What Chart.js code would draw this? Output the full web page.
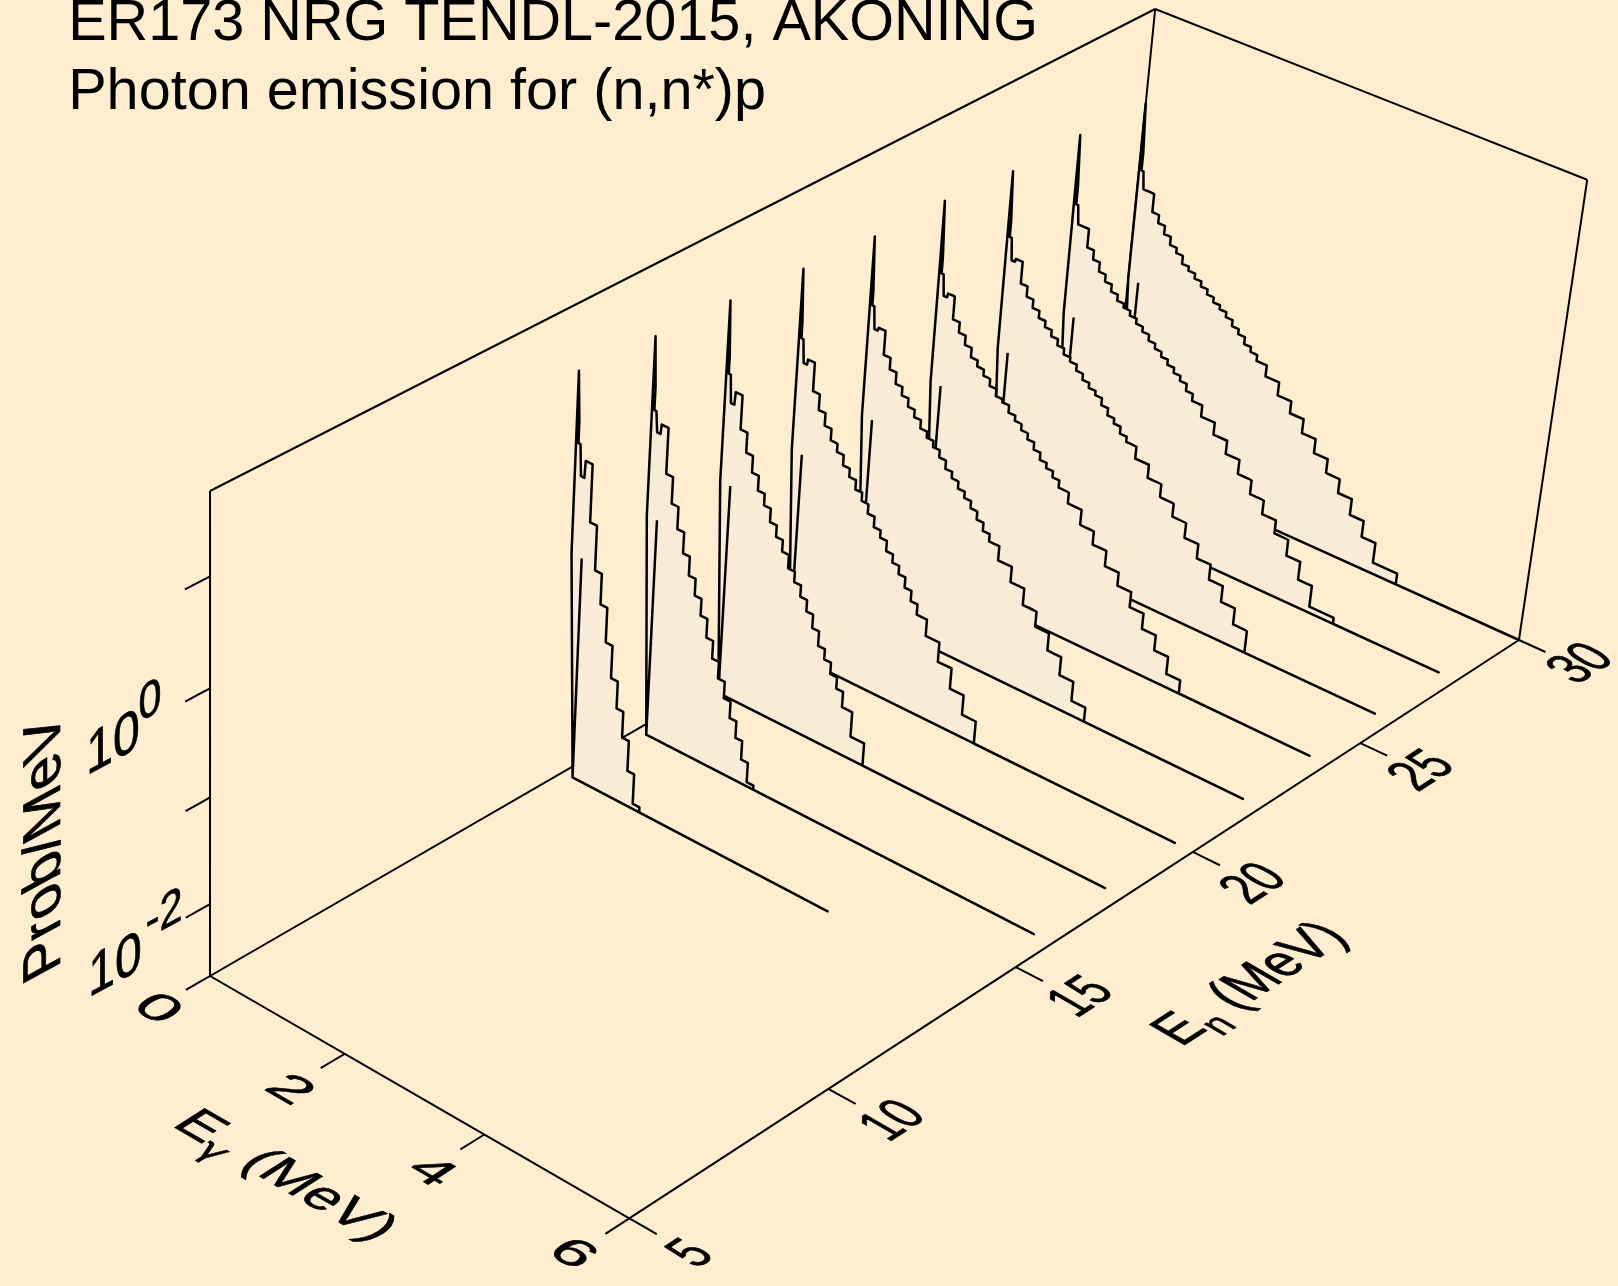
<!DOCTYPE html>
<html><head><meta charset="utf-8"><title>ER173 photon emission</title>
<style>html,body{margin:0;padding:0;background:#ffedd0}#w{position:absolute;left:0;top:0;width:1618px;height:1286px}</style>
</head><body><div id="w"><canvas id="c" width="1618" height="1286"></canvas></div>
<script src="https://cdn.jsdelivr.net/npm/chart.js@4"></script>
<script>
// ---- data (Eg in MeV, En in MeV, prob as log10(Prob/MeV)) ----
const neutronEnergies=[14,16,18,20,22,24,26,28,30];
const binEdges=[0.15,0.25,0.35,0.45,0.55,0.65,0.75,0.85,0.95,1.05,1.15,1.25,1.35,1.45,1.55,1.65,1.75,1.85,1.95,2.1,2.3,2.5,2.7,2.9,3.1,3.3,3.5,3.7,3.9];
const stairEnd=[1.15,1.75,2.3,2.9,3.5,3.9,3.9,4.25,4.25];
const lineEnd=[3.89,5.75,5.75,5.75,5.75,5.75,5.75,5.75,6];
const lowLevel=[-0.57,-0.60,-0.66,-0.74,-0.78,-0.82,-0.86,-0.87,-0.88];
const peakLevel=[1.12,1.07,1.04,0.98,0.93,0.92,0.86,0.87,0.84];
const shoulderLevel=[0.67,0.62,0.53,0.48,0.43,0.40,0.39,0.39,0.38];
const firstFlat=[0.47,0.40,0.37,0.34,0.29,0.24,0.24,0.21,0.20];
const secondFlat=[0.18,0.21,0.11,0.12,0.08,0.04,0.03,0.03,0.03];
const lp14=[0.34,-0.20,-0.62,-0.91,-1.24,-1.55,-1.81,-2.06,-2.35,-2.64];
const lp16=[0.30,-0.13,-0.38,-0.59,-0.79,-0.97,-1.13,-1.29,-1.47,-1.64,-1.80,-1.96,-2.12,-2.28,-2.46,-2.65];
const lp18=[0.23,-0.09,-0.28,-0.44,-0.58,-0.69,-0.82,-0.93,-1.04,-1.17,-1.27,-1.38,-1.49,-1.62,-1.76,-1.86,-1.97,-2.08,-2.23,-2.47];
const lp20=[0.17,-0.10,-0.25,-0.37,-0.48,-0.56,-0.66,-0.74,-0.83,-0.91,-1.00,-1.10,-1.17,-1.27,-1.35,-1.43,-1.53,-1.63,-1.73,-1.89,-2.08,-2.28,-2.47];
const lp22=[0.11,-0.12,-0.23,-0.34,-0.42,-0.50,-0.57,-0.65,-0.71,-0.77,-0.84,-0.92,-0.98,-1.05,-1.11,-1.18,-1.26,-1.34,-1.41,-1.55,-1.70,-1.86,-2.01,-2.18,-2.36,-2.55];
const lp24=[0.08,-0.14,-0.24,-0.33,-0.42,-0.48,-0.54,-0.61,-0.68,-0.71,-0.78,-0.83,-0.89,-0.95,-1.02,-1.09,-1.14,-1.20,-1.27,-1.38,-1.53,-1.66,-1.81,-1.94,-2.09,-2.24,-2.39,-2.56];
const lp26=[0.06,-0.15,-0.25,-0.33,-0.40,-0.46,-0.52,-0.58,-0.64,-0.68,-0.74,-0.80,-0.85,-0.89,-0.96,-1.03,-1.08,-1.15,-1.20,-1.32,-1.45,-1.58,-1.71,-1.86,-2.00,-2.15,-2.31,-2.47];
const lp28=[0.03,-0.15,-0.24,-0.33,-0.40,-0.47,-0.53,-0.57,-0.62,-0.67,-0.72,-0.78,-0.83,-0.88,-0.93,-0.98,-1.03,-1.10,-1.17,-1.28,-1.40,-1.53,-1.67,-1.81,-1.95,-2.08,-2.24,-2.42,-2.63];
const lp30=[0.03,-0.15,-0.23,-0.31,-0.39,-0.44,-0.52,-0.56,-0.61,-0.66,-0.71,-0.76,-0.80,-0.85,-0.91,-0.96,-1.03,-1.08,-1.14,-1.25,-1.38,-1.50,-1.64,-1.78,-1.92,-2.06,-2.22,-2.38,-2.58];
const spectra=[lp14,lp16,lp18,lp20,lp22,lp24,lp26,lp28,lp30];
const egTicks=[0,2,4,6], enTicks=[5,10,15,20,25,30], probTicks=[-2,-1,0,1];
const egRange=[0,6], enRange=[5,30], logRange=[-2.69,1.745];
const titleLines=['ER173 NRG TENDL-2015, AKONING','Photon emission for (n,n*)p'];

// ---- 3D view: maps (Eg,En,log P) on to the flat plane of the chart's two linear scales ----
function view(eg,en,lp){
  const u=eg/6,v=(en-5)/25,w=(lp-logRange[0])/(logRange[1]-logRange[0]);
  const d=1-.054*u+.1443*v-.054*w;
  return {x:(210+385.3*u+1060.8*v-11.3*w)/d,y:(976+176.5*u-454.7*v-511.5*w)/d};
}
const lo=logRange[0],hi=logRange[1];
function spectrumPath(i){
  const en=neutronEnergies[i],lp=spectra[i],p=[];
  const add=(e,l)=>p.push(view(e,en,l));
  add(0.15,lowLevel[i]); add(0.15,lo); add(0,lowLevel[i]); add(0,peakLevel[i]);
  add(0.035,shoulderLevel[i]); add(0.035,firstFlat[i]); add(0.065,firstFlat[i]);
  add(0.09,secondFlat[i]); add(0.14,secondFlat[i]);
  lp.forEach((l,k)=>{const e0=binEdges[k],e1=k===lp.length-1?stairEnd[i]:binEdges[k+1];add(e0,l);add(e1,l);});
  add(stairEnd[i],lo); add(lineEnd[i],lo); add(0.15,lo);
  return p;
}
const black='#000000';
const base={showLine:true,pointRadius:0,pointHoverRadius:0,borderColor:black,clip:false,tension:1e-6,borderCapStyle:'butt',borderJoinStyle:'round'};
const datasets=[];
neutronEnergies.forEach((en,i)=>datasets.push({...base,label:'En '+en,data:spectrumPath(i),borderWidth:2.5,fill:'shape',backgroundColor:'#faebd7'}));
const seg=(a,b)=>({...base,label:'axis',data:[a,b],borderWidth:2,fill:false});
const [e0,e1]=egRange,[n0,n1]=enRange;
// box edges
[[[e0,n0,lo],[e1,n0,lo]],[[e1,n0,lo],[e1,n1,lo]],[[e0,n0,lo],[e0,n0,hi]],[[e0,n0,hi],[e0,n1,hi]],[[e0,n1,hi],[e1,n1,hi]],[[e1,n1,hi],[e1,n1,lo]],[[e0,n1,hi],[e0,n1,lo]],[[e0,n0,lo],[e0,n1,lo]]]
 .forEach(([a,b])=>datasets.push(seg(view(...a),view(...b))));
// tick marks
egTicks.forEach(t=>datasets.push(seg(view(t,n0,lo),view(t,4.42,lo))));
enTicks.forEach(t=>datasets.push(seg(view(e1,t,lo),view(6.37,t,lo))));
probTicks.forEach(t=>datasets.push(seg(view(e0,n0,t),view(e0,4.42,t))));

// ---- text: each label is sheared to lie in its face of the box ----
const FONT=56, FAM='"Liberation Sans",Arial,sans-serif';
const EG=[[1.0,.58],[-.72,.47]], ENt=[[.64,-.415],[.92,.53]], ENT=[[.74,-.48],[.92,.53]], EGT=[[.89,.514],[-.78,.5]], ZT=[[.86,-.46],[0,1.05]], PT=[[0,-1.04],[.95,-.52]];
function sheared(ctx,pieces,cx,cy,m){
  ctx.save();
  ctx.transform(m[0][0],m[0][1],m[1][0],m[1][1],cx,cy);
  ctx.textBaseline='alphabetic';ctx.textAlign='left';ctx.fillStyle=black;ctx.strokeStyle=black;ctx.lineWidth=.7;ctx.lineJoin='round';
  let total=0;
  for(const q of pieces){ctx.font=(q.size||FONT)+'px '+(q.fam||FAM);q.w=ctx.measureText(q.t).width;total+=q.w;}
  let x=-total/2;const mid=FONT*.358;
  for(const q of pieces){ctx.font=(q.size||FONT)+'px '+(q.fam||FAM);ctx.fillText(q.t,x,mid+(q.dy||0));ctx.strokeText(q.t,x,mid+(q.dy||0));x+=q.w;}
  ctx.restore();
}
const labels={
 id:'labels',
 afterDatasetsDraw(chart){
  const c=chart.ctx;
  c.save();c.fillStyle=black;c.textAlign='left';c.textBaseline='alphabetic';c.font='57.6px '+FAM;
  c.fillText(titleLines[0],68.2,40);c.fillText(titleLines[1],68.2,109.3);c.restore();
  const one=(t)=>[{t}];
  [[0,160,1007],[2,292,1088],[4,434,1170],[6,575,1252]].forEach(([t,x,y])=>sheared(c,one(String(t)),x,y,EG));
  [[5,688,1252],[10,890,1119],[15,1078,995],[20,1251,882],[25,1419,769],[30,1578,662]].forEach(([t,x,y])=>sheared(c,one(String(t)),x,y,ENt));
  sheared(c,[{t:'E'},{t:'\u03b3',size:40,dy:14,fam:'"DejaVu Sans",sans-serif'},{t:' (MeV)'}],288,1174,EGT);
  sheared(c,[{t:'E'},{t:'n',size:40,dy:14},{t:' (MeV)'}],1247,982,ENT);
  sheared(c,one('Prob/MeV'),41,849,PT);
  sheared(c,one('10'),115,962,ZT); sheared(c,[{t:'-2',size:48}],164,908,ZT);
  sheared(c,one('10'),113,740,ZT); sheared(c,[{t:'0',size:48}],150,695,ZT);
 }
};
new Chart(document.getElementById('c'),{
 type:'line',
 data:{datasets},
 options:{responsive:false,animation:false,events:[],devicePixelRatio:1,
  layout:{padding:0},
  plugins:{legend:{display:false},title:{display:false},tooltip:{enabled:false},filler:{propagate:false}},
  scales:{x:{type:'linear',display:false,min:0,max:1618},y:{type:'linear',display:false,min:0,max:1286,reverse:true}}
 },
 plugins:[{id:'bg',beforeDraw(ch){const c=ch.ctx;c.save();c.fillStyle='#ffedd0';c.fillRect(0,0,1618,1286);c.restore();}},labels]
});
</script></body></html>
